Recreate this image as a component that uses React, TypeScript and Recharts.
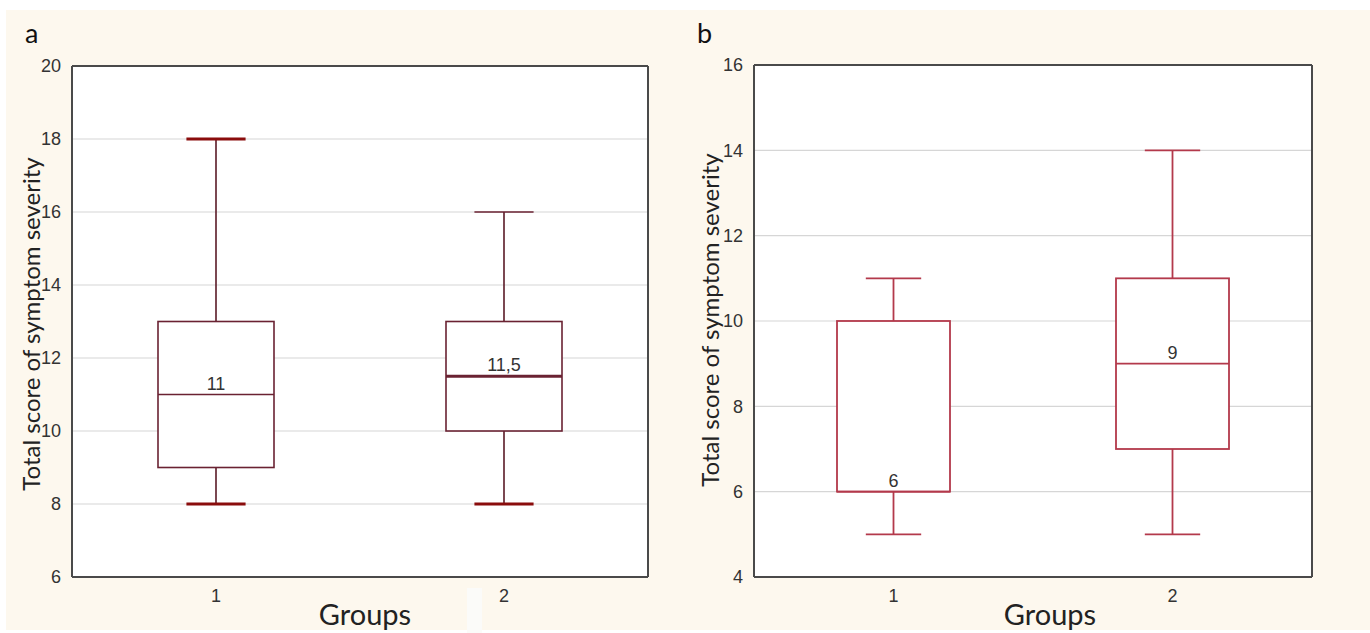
import React from 'react';
import { ComposedChart, Bar, XAxis, YAxis, CartesianGrid } from 'recharts';

// ---- Data ----
const groups = ['1', '2'];

// Panel a
const aMin = [8, 8];
const aQ1 = [9, 10];
const aMedian = [11, 11.5];
const aQ3 = [13, 13];
const aMax = [18, 16];
const aMedianLabels = ['11', '11,5'];
const aTicks = [6, 8, 10, 12, 14, 16, 18, 20];

// Panel b
const bMin = [5, 5];
const bQ1 = [6, 7];
const bMedian = [6, 9];
const bQ3 = [10, 11];
const bMax = [11, 14];
const bMedianLabels = ['6', '9'];
const bTicks = [4, 6, 8, 10, 12, 14, 16];

const build = (mn: number[], q1: number[], md: number[], q3: number[], mx: number[], lbl: string[]) =>
  groups.map((g, i) => ({ name: g, min: mn[i], q1: q1[i], median: md[i], q3: q3[i], max: mx[i], label: lbl[i] }));

const dataA = build(aMin, aQ1, aMedian, aQ3, aMax, aMedianLabels);
const dataB = build(bMin, bQ1, bMedian, bQ3, bMax, bMedianLabels);

const tickFont = "'Liberation Sans Narrow', 'Liberation Sans', Arial, sans-serif";
const titleFont = "Lato, 'Open Sans', sans-serif";

type BoxStyle = {
  box: string; boxW: number; whisker: string; whiskerW: number;
  cap: string; capTopW: number[]; capBotW: number[]; capThin: string;
  medW: number[]; capRatio: number;
};

const makeShape = (st: BoxStyle) => (props: any) => {
  const { x, y, width, height, payload, index } = props;
  const top = Math.min(y, y + height);
  const h = Math.abs(height);
  const { min, q1, median, q3, max, label } = payload;
  const py = (v: number) => top + ((max - v) / (max - min)) * h;
  const cx = x + width / 2;
  const capHalf = (width * st.capRatio) / 2;
  const yQ1 = py(q1), yQ3 = py(q3), yMed = py(median), yMin = py(min), yMax = py(max);
  const tW = st.capTopW[index], bW = st.capBotW[index];
  return (
    <g>
      <line x1={cx} x2={cx} y1={yMax} y2={yQ3} stroke={st.whisker} strokeWidth={st.whiskerW} />
      <line x1={cx} x2={cx} y1={yQ1} y2={yMin} stroke={st.whisker} strokeWidth={st.whiskerW} />
      <line x1={cx - capHalf} x2={cx + capHalf} y1={yMax} y2={yMax} stroke={tW > 2 ? st.cap : st.capThin} strokeWidth={tW} />
      <line x1={cx - capHalf} x2={cx + capHalf} y1={yMin} y2={yMin} stroke={bW > 2 ? st.cap : st.capThin} strokeWidth={bW} />
      <rect x={x} y={yQ3} width={width} height={yQ1 - yQ3} fill="#ffffff" stroke={st.box} strokeWidth={st.boxW} />
      <line x1={x} x2={x + width} y1={yMed} y2={yMed} stroke={st.box} strokeWidth={st.medW[index] ?? st.boxW} />
      <text x={cx} y={yMed - 5} textAnchor="middle" fontFamily={tickFont} fontSize={18} fill="#333">{label}</text>
    </g>
  );
};

const styleA: BoxStyle = {
  box: '#6a2232', boxW: 1.6, whisker: '#5a1a26', whiskerW: 1.6,
  cap: '#8a0c0c', capTopW: [3, 1.6], capBotW: [3, 3], capThin: '#6a2232',
  medW: [1.6, 2.8], capRatio: 0.51,
};
const styleB: BoxStyle = {
  box: '#b3394b', boxW: 1.8, whisker: '#b3394b', whiskerW: 1.8,
  cap: '#b3394b', capTopW: [1.8, 1.8], capBotW: [1.8, 1.8], capThin: '#b3394b',
  medW: [1.8, 1.8], capRatio: 0.49,
};

const axisColor = '#4a4a4a';

type PanelProps = {
  data: any[]; ticks: number[]; domain: [number, number];
  width: number; height: number; margin: any; barSize: number; st: BoxStyle;
};

const Panel = ({ data, ticks, domain, width, height, margin, barSize, st }: PanelProps) => (
  <ComposedChart width={width} height={height} data={data} margin={margin}>
    <CartesianGrid xAxisId="x" yAxisId="y" vertical={false} stroke="#d6d6d6" strokeWidth={1.2} fill="#ffffff" />
    <XAxis xAxisId="x" dataKey="name" type="category" axisLine={{ stroke: axisColor, strokeWidth: 2 }}
      tickLine={false} tickSize={0} tickMargin={12} height={30}
      tick={{ fontFamily: tickFont, fontSize: 18, fill: '#333' }} />
    <XAxis xAxisId="xb2" dataKey="name" type="category" mirror axisLine={false}
      tick={false} tickSize={5} tickLine={{ stroke: axisColor, strokeWidth: 1.5 }} height={30} />
    <XAxis xAxisId="xt" dataKey="name" type="category" orientation="top" mirror
      axisLine={{ stroke: axisColor, strokeWidth: 2 }} tick={false} tickSize={5}
      tickLine={{ stroke: axisColor, strokeWidth: 1.5 }} />
    <YAxis yAxisId="y" type="number" domain={domain} ticks={ticks} allowDataOverflow interval={0}
      axisLine={{ stroke: axisColor, strokeWidth: 2 }} tickLine={false} tickSize={0} tickMargin={11} width={60}
      tick={{ fontFamily: tickFont, fontSize: 18, fill: '#333' }} />
    <YAxis yAxisId="yl2" type="number" domain={domain} ticks={ticks} allowDataOverflow interval={0} mirror
      axisLine={false} tick={false} tickSize={4} tickLine={{ stroke: axisColor, strokeWidth: 1.5 }} />
    <YAxis yAxisId="yr" type="number" domain={domain} ticks={ticks} allowDataOverflow interval={0}
      orientation="right" mirror axisLine={{ stroke: axisColor, strokeWidth: 2 }} tick={false} tickSize={5}
      tickLine={{ stroke: axisColor, strokeWidth: 1.5 }} />
    <Bar xAxisId="x" yAxisId="y" dataKey={(d: any) => [d.min, d.max]} barSize={barSize}
      isAnimationActive={false} shape={makeShape(st)} />
  </ComposedChart>
);

const abs = (l: number, t: number, extra: any = {}): React.CSSProperties => ({ position: 'absolute', left: l, top: t, ...extra });

export default function App() {
  return (
    <div style={{ position: 'fixed', left: 0, top: 0, width: 1370, height: 633, background: '#ffffff', overflow: 'hidden' }}>
      <div style={abs(6, 10, { width: 1364, height: 620, background: '#fdf8ee' })} />
      <div style={abs(467, 588, { width: 15, height: 45, background: '#fbfbf9' })} />

      {/* Panel a */}
      <div style={abs(0, 0)}>
        <Panel data={dataA} ticks={aTicks} domain={[6, 20]} width={680} height={633}
          margin={{ top: 66, right: 32, bottom: 26, left: 12 }} barSize={116} st={styleA} />
      </div>
      {/* Panel b */}
      <div style={abs(680, 0)}>
        <Panel data={dataB} ticks={bTicks} domain={[4, 16]} width={690} height={633}
          margin={{ top: 65, right: 58, bottom: 26, left: 14 }} barSize={113} st={styleB} />
      </div>

      {/* Panel letters */}
      <div style={abs(25, 18, { fontFamily: titleFont, fontSize: 27, color: '#111', lineHeight: '30px' })}>a</div>
      <div style={abs(697, 18, { fontFamily: titleFont, fontSize: 27, color: '#111', lineHeight: '30px' })}>b</div>

      {/* Y titles */}
      <div style={abs(30, 324, { transform: 'translate(-50%, -50%) rotate(-90deg)', whiteSpace: 'nowrap', fontFamily: titleFont, fontSize: 24, color: '#222' })}>
        Total score of symptom severity
      </div>
      <div style={abs(709, 320, { transform: 'translate(-50%, -50%) rotate(-90deg)', whiteSpace: 'nowrap', fontFamily: titleFont, fontSize: 24, color: '#222' })}>
        Total score of symptom severity
      </div>

      {/* X titles */}
      <div style={abs(365, 613, { transform: 'translate(-50%, -50%)', whiteSpace: 'nowrap', fontFamily: titleFont, fontSize: 29, color: '#222' })}>Groups</div>
      <div style={abs(1050, 613, { transform: 'translate(-50%, -50%)', whiteSpace: 'nowrap', fontFamily: titleFont, fontSize: 29, color: '#222' })}>Groups</div>
    </div>
  );
}
